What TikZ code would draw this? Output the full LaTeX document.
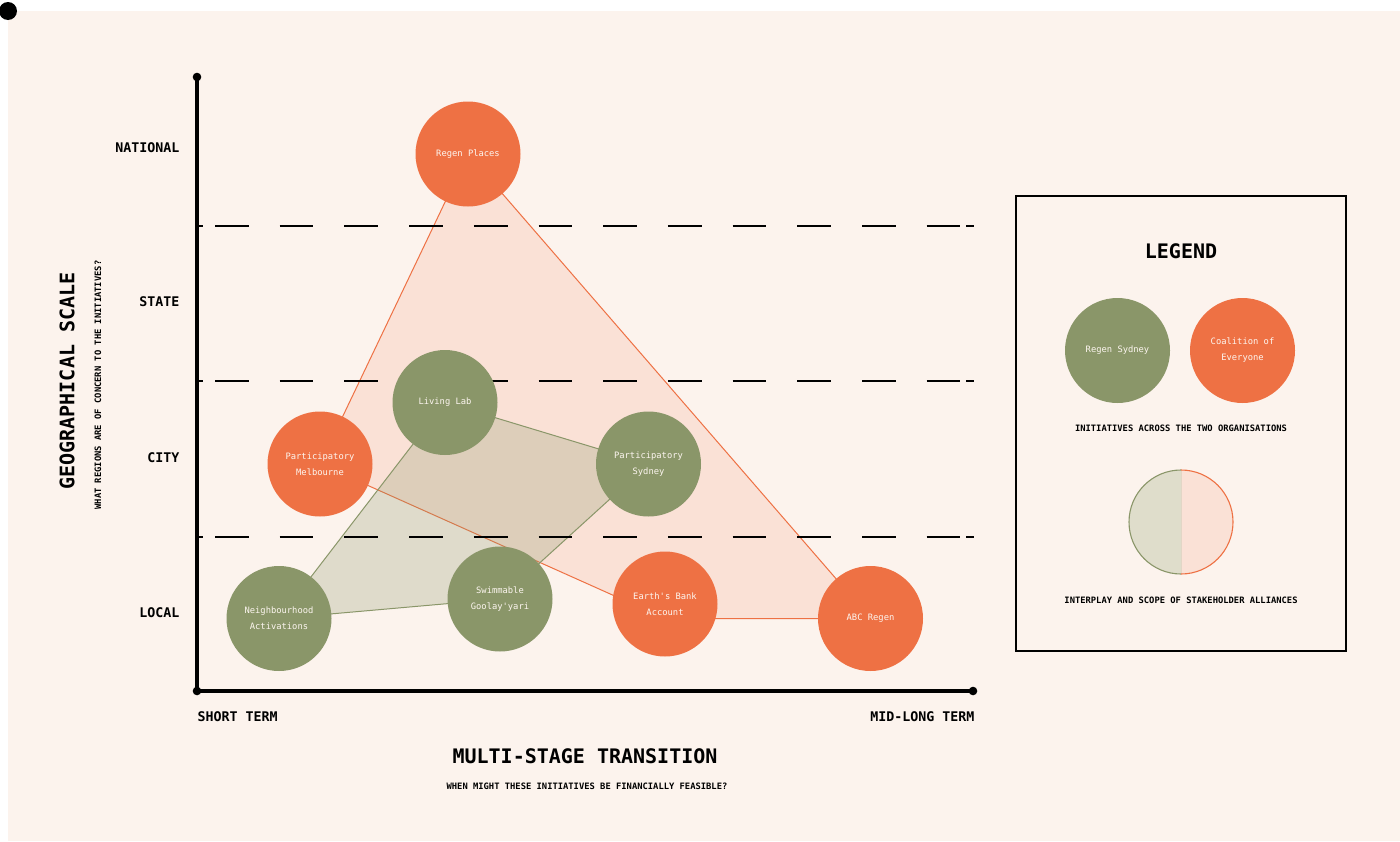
\documentclass[tikz,border=0pt]{standalone}
\usepackage{fontspec}
\setmainfont{DejaVu Sans Mono}
\usetikzlibrary{calc}

\definecolor{paper}{HTML}{FCF3ED}
\definecolor{coral}{HTML}{EE7144}
\definecolor{olive}{HTML}{8A9669}
\definecolor{coralwash}{HTML}{FAE1D6}
\definecolor{olivewash}{HTML}{DFDDCB}
\definecolor{cream}{HTML}{FDF6F0}
\definecolor{seam}{HTML}{E2D6C6}

% drawing order: sheet, alliance scopes, scale bands, everything else
\pgfdeclarelayer{sheet}
\pgfdeclarelayer{scopes}
\pgfdeclarelayer{bands}
\pgfsetlayers{sheet,scopes,bands,main}

\begin{document}
\begin{tikzpicture}[x=1pt,y=-1pt,
  initiative/.style={circle, minimum size=105pt, inner sep=0pt, text=cream,
    align=center, font=\fontsize{8.8}{16}\selectfont},
  coalition/.style={initiative, fill=coral},
  regensyd/.style={initiative, fill=olive},
  levelname/.style={anchor=east, font=\fontsize{13.3}{16}\selectfont\bfseries},
  termname/.style={font=\fontsize{13.3}{16}\selectfont\bfseries},
  bigtitle/.style={font=\fontsize{20}{24}\selectfont\bfseries},
  smallcaption/.style={font=\fontsize{8.8}{10}\selectfont\bfseries},
  axisline/.style={line width=3.6pt, line cap=round, line join=round},
  guide/.style={line width=1.8pt},
  coralscope/.style={draw=coral, line width=1pt, fill=coralwash},
  olivescope/.style={draw=olive, line width=1pt, fill=olive, fill opacity=0.25},
  legendbox/.style={draw=black, line width=1.4pt, minimum width=330pt,
    minimum height=455pt, inner sep=0pt}
]
\useasboundingbox (0,0) rectangle (1400,841);

% sheet
\begin{pgfonlayer}{sheet}
\fill[white] (0,0) rectangle (1400,841);
\fill[paper] (8,11) rectangle (1400,841);
\fill[black] (8,11) circle[radius=9];
\end{pgfonlayer}

% initiatives
\node[coalition] (rp)  at (468,154)     {Regen Places};
\node[regensyd]  (ll)  at (445,402.5)   {Living Lab};
\node[coalition] (pm)  at (320,464)     {Participatory\\Melbourne};
\node[regensyd]  (ps)  at (648.5,464)   {Participatory\\Sydney};
\node[regensyd]  (na)  at (279,618.5)   {Neighbourhood\\Activations};
\node[regensyd]  (sg)  at (500,599)     {Swimmable\\Goolay\textquotesingle yari};
\node[coalition] (eb)  at (665,604)     {Earth\textquotesingle s Bank\\Account};
\node[coalition] (abc) at (870.5,618.5) {ABC Regen};
\coordinate (ebcorner) at (eb |- abc);

% alliance scopes
\begin{pgfonlayer}{scopes}
\path[coralscope] (rp.center) -- (abc.center) -- (ebcorner) -- (pm.center) -- cycle;
\path[olivescope] (ll.center) -- (ps.center) -- (sg.center) -- (na.center) -- cycle;
\end{pgfonlayer}

% scale bands
\begin{pgfonlayer}{bands}
\foreach \yy in {226,381,537}{
  \draw[guide, dash pattern=on 33.7pt off 31pt] (215,\yy) -- (961,\yy);
  \draw[guide] (199,\yy) -- (203,\yy);
  \draw[guide] (966,\yy) -- (974,\yy);
}
\end{pgfonlayer}

% axes
\coordinate (ytop) at (197,77);
\coordinate (origin) at (197,691);
\coordinate (xend) at (973,691);
\draw[axisline] (ytop) -- (origin) -- (xend);
\fill (ytop) circle[radius=4.3];
\fill (origin) circle[radius=4.3];
\fill (xend) circle[radius=4.3];

% level names
\node[levelname] (national) at (183,148) {NATIONAL};
\node[levelname] (state)    at (183,302) {STATE};
\node[levelname] (city)     at (183,458) {CITY};
\node[levelname] (local)    at (183,613) {LOCAL};

% time names
\node[termname, anchor=west] (short) at (194,717) {SHORT TERM};
\node[termname, anchor=east] (long)  at (978,717) {MID-LONG TERM};

% axis titles
\node[bigtitle] (xtitle) at (585,756) {MULTI-STAGE TRANSITION};
\node[smallcaption] (xsub) at (587,786) {WHEN MIGHT THESE INITIATIVES BE FINANCIALLY FEASIBLE?};
\node[bigtitle, rotate=90] (ytitle) at (67,381) {GEOGRAPHICAL SCALE};
\node[smallcaption, rotate=90] (ysub) at (98,385) {WHAT REGIONS ARE OF CONCERN TO THE INITIATIVES?};

% legend
\node[legendbox] (legend) at (1181,423.5) {};
\node[bigtitle] (legendtitle) at (1181,251) {LEGEND};
\node[regensyd]  (rs) at (1117.5,350.5) {Regen Sydney};
\node[coalition] (ce) at (1242.5,350.5) {Coalition of\\Everyone};
\node[smallcaption] (cap1) at (1181,428) {INITIATIVES ACROSS THE TWO ORGANISATIONS};

\coordinate (hc) at (1181,522);
\fill[olivewash] ($(hc)+(0,-52)$) arc[start angle=-90, end angle=-270, radius=52] -- cycle;
\fill[coralwash] ($(hc)+(0,-52)$) arc[start angle=-90, end angle=90, radius=52] -- cycle;
\draw[seam, line width=0.6pt] ($(hc)+(0,-52)$) -- ($(hc)+(0,52)$);
\draw[olive, line width=1.1pt] ($(hc)+(0,-52)$) arc[start angle=-90, end angle=-270, radius=52];
\draw[coral, line width=1.1pt] ($(hc)+(0,-52)$) arc[start angle=-90, end angle=90, radius=52];
\node[smallcaption] (cap2) at (1181,600) {INTERPLAY AND SCOPE OF STAKEHOLDER ALLIANCES};
\end{tikzpicture}
\end{document}
